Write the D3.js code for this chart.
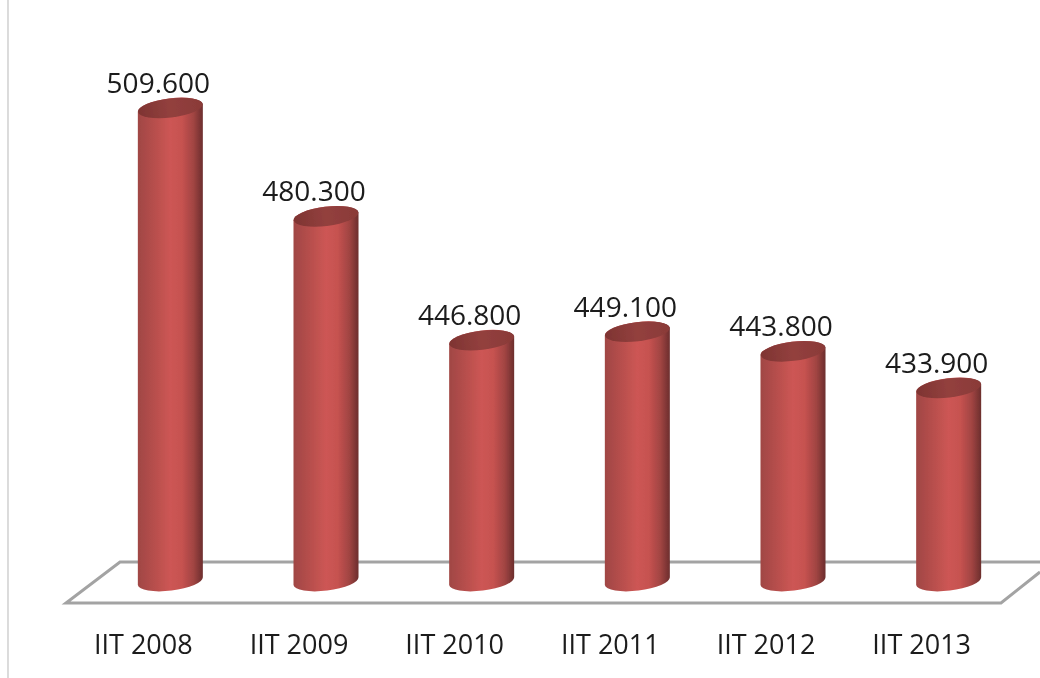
<!DOCTYPE html>
<html><head><meta charset="utf-8">
<script src="https://cdnjs.cloudflare.com/ajax/libs/d3/7.8.5/d3.min.js"></script>
<style>html,body{margin:0;background:#fff}svg{display:block}text{font-family:"Open Sans",sans-serif;fill:#1a1a1a}</style>
</head><body><div id="c"></div>
<script>
const categories=["IIT 2008","IIT 2009","IIT 2010","IIT 2011","IIT 2012","IIT 2013"];
const values=[509.6,480.3,446.8,449.1,443.8,433.9];
const W=1040,H=678;
const svg=d3.select("#c").append("svg").attr("width",W).attr("height",H);
const x=d3.scaleBand().domain(categories).range([92.5,1026.5]).paddingInner(0).paddingOuter(0);
const y=d3.scaleLinear().domain([381.7,509.6]).range([581,108]);
const defs=svg.append("defs");
const grad=(id,stops)=>{const g=defs.append("linearGradient").attr("id",id);stops.forEach(s=>g.append("stop").attr("offset",s[0]).attr("stop-color",s[1]));};
grad("body",[[0,"#a04644"],[.2,"#b24d4b"],[.5,"#cd5654"],[.68,"#c65250"],[.86,"#a04442"],[1,"#6c2e2d"]]);
grad("cap",[[0,"#7e3432"],[.5,"#93403e"],[1,"#8a3a38"]]);
const f=defs.append("filter").attr("id","soft").attr("x","-5%").attr("y","-5%").attr("width","110%").attr("height","110%");
f.append("feGaussianBlur").attr("stdDeviation",0.45);
const root=svg.append("g").attr("filter","url(#soft)");
root.append("line").attr("x1",8).attr("x2",8).attr("y1",0).attr("y2",H).attr("stroke","#c4c4c4").attr("stroke-width",1.2);
root.append("path").attr("d","M1040,562H120L66,603H1001L1040,572").attr("fill","none").attr("stroke","#a3a3a3").attr("stroke-width",3);
const rx=32.5,ry=9.6,dy=4;
const gs=root.selectAll("g.bar").data(categories.map((c,i)=>({c,v:values[i]}))).join("g").attr("class","bar");
gs.append("path").attr("fill","url(#body)").attr("d",d=>{
  const cx=x(d.c)+x.bandwidth()/2,t=y(d.v),b=y.range()[0];
  return `M${cx-rx},${t+dy}A${rx},${ry} -7 0 1 ${cx+rx},${t-dy}L${cx+rx},${b-dy}A${rx},${ry} -7 0 1 ${cx-rx},${b+dy}Z`;
});
gs.append("ellipse").attr("fill","url(#cap)")
 .attr("rx",rx).attr("ry",ry)
 .attr("transform",d=>`translate(${x(d.c)+x.bandwidth()/2},${y(d.v)}) rotate(-7)`);
gs.append("text").attr("text-anchor","middle").attr("font-size",28)
 .attr("x",d=>x(d.c)+x.bandwidth()/2-12).attr("y",d=>y(d.v)-15)
 .text(d=>d3.format(".3f")(d.v));
gs.append("text").attr("text-anchor","middle").attr("font-size",27)
 .attr("x",d=>x(d.c)+x.bandwidth()/2-27).attr("y",654).text(d=>d.c);
</script></body></html>
